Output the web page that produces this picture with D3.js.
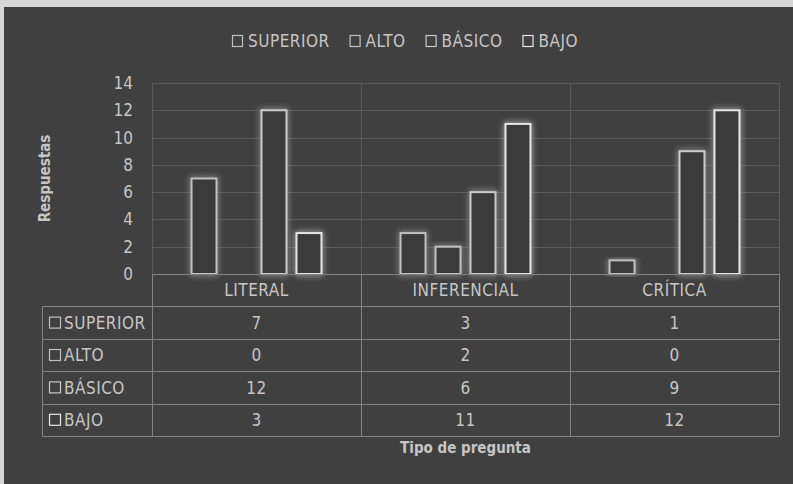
<!DOCTYPE html>
<html>
<head>
<meta charset="utf-8">
<script src="https://cdn.jsdelivr.net/npm/d3@7"></script>
<style>
  body { margin: 0; background: #d6d6d6; }
  svg { display: block; }
</style>
</head>
<body>
<div id="chart"></div>
<script>
// data
var categories = ["LITERAL", "INFERENCIAL", "CRÍTICA"];
var series = ["SUPERIOR", "ALTO", "BÁSICO", "BAJO"];
var superior = [7, 3, 1];
var alto = [0, 2, 0];
var basico = [12, 6, 9];
var bajo = [3, 11, 12];
var yTicks = [0, 2, 4, 6, 8, 10, 12, 14];

var values = [superior, alto, basico, bajo];
var strokeCol = {"SUPERIOR": "#c0c0c0", "ALTO": "#c0c0c0", "BÁSICO": "#cacaca", "BAJO": "#e6e6e6"};

var W = 793, H = 484;
var plot = {left: 152, right: 779, top: 83, bottom: 274};
var rowH = 32.4, labelLeft = 42;
var font = "'DejaVu Sans Condensed', 'DejaVu Sans', sans-serif";
var txt = "#c6c6c6";

var svg = d3.select("#chart").append("svg")
  .attr("width", W)
  .attr("height", H)
  .style("font-family", font);

// outer light strip + dark chart area
svg.append("rect").attr("width", W).attr("height", H).attr("fill", "#d6d6d6");
svg.append("rect").attr("x", 4).attr("y", 7).attr("width", W - 4).attr("height", H - 7).attr("fill", "#404040");

var defs = svg.append("defs");
var f = defs.append("filter").attr("id", "glow")
  .attr("x", "-50%").attr("y", "-20%").attr("width", "200%").attr("height", "140%");
f.append("feGaussianBlur").attr("in", "SourceGraphic").attr("stdDeviation", 3.2).attr("result", "b");
var m = f.append("feMerge");
m.append("feMergeNode").attr("in", "b");
m.append("feMergeNode").attr("in", "SourceGraphic");

// scales
var x0 = d3.scaleBand().domain(categories).range([plot.left, plot.right]).padding(0);
var x1 = d3.scaleBand().domain(series).range([0, x0.bandwidth()])
  .paddingInner(0.286).paddingOuter(1.13);
var y = d3.scaleLinear().domain([0, 14]).range([plot.bottom, plot.top]);

// horizontal gridlines
svg.append("g").selectAll("line")
  .data(yTicks.slice(1))
  .enter().append("line")
    .attr("x1", plot.left).attr("x2", plot.right)
    .attr("y1", function(d) { return Math.round(y(d)) + 0.5; })
    .attr("y2", function(d) { return Math.round(y(d)) + 0.5; })
    .attr("stroke", "#595959").attr("stroke-width", 1);

// vertical separators in the plot
var bounds = categories.map(function(c) { return x0(c); }).concat([plot.right]);
svg.append("g").selectAll("line")
  .data(bounds)
  .enter().append("line")
    .attr("x1", function(d) { return Math.round(d) + 0.5; })
    .attr("x2", function(d) { return Math.round(d) + 0.5; })
    .attr("y1", plot.top).attr("y2", plot.bottom)
    .attr("stroke", "#595959");

// y axis labels
svg.append("g")
  .attr("transform", "translate(" + (plot.left - 19) + ",0)")
  .call(d3.axisLeft(y).tickValues(yTicks).tickSize(0).tickPadding(0))
  .call(function(g) { g.select(".domain").remove(); })
  .selectAll("text")
    .style("font-family", font)
    .style("font-size", "17px")
    .attr("fill", txt);

// bars
var barData = [];
series.forEach(function(s, i) {
  categories.forEach(function(c, j) {
    if (values[i][j] > 0) barData.push({s: s, c: c, v: values[i][j]});
  });
});
svg.append("g").selectAll("rect")
  .data(barData)
  .enter().append("rect")
    .attr("x", function(d) { return x0(d.c) + x1(d.s); })
    .attr("y", function(d) { return y(d.v); })
    .attr("width", x1.bandwidth())
    .attr("height", function(d) { return y(0) - y(d.v); })
    .attr("fill", "#3a3a3a")
    .attr("stroke", function(d) { return strokeCol[d.s]; })
    .attr("stroke-width", 2)
    .attr("filter", "url(#glow)");

// data table
var tableTop = plot.bottom;
var tableLine = "#838383";
var tg = svg.append("g").style("letter-spacing", "0.5px");
var nRows = series.length;
var tBottom = tableTop + rowH * (nRows + 1);

tg.append("line").attr("x1", plot.left).attr("x2", plot.right)
  .attr("y1", tableTop + 0.5).attr("y2", tableTop + 0.5).attr("stroke", tableLine);
d3.range(1, nRows + 2).forEach(function(r) {
  var yy = Math.round(tableTop + rowH * r) + 0.5;
  tg.append("line").attr("x1", labelLeft).attr("x2", plot.right)
    .attr("y1", yy).attr("y2", yy).attr("stroke", tableLine);
});
bounds.forEach(function(b) {
  tg.append("line")
    .attr("x1", Math.round(b) + 0.5).attr("x2", Math.round(b) + 0.5)
    .attr("y1", tableTop).attr("y2", tBottom).attr("stroke", tableLine);
});
tg.append("line").attr("x1", labelLeft + 0.5).attr("x2", labelLeft + 0.5)
  .attr("y1", tableTop + rowH).attr("y2", tBottom).attr("stroke", tableLine);

// header
tg.selectAll("text.hdr")
  .data(categories)
  .enter().append("text")
    .attr("class", "hdr")
    .attr("x", function(c) { return x0(c) + x0.bandwidth() / 2; })
    .attr("y", tableTop + rowH / 2)
    .attr("dy", "0.36em")
    .attr("text-anchor", "middle")
    .attr("fill", txt)
    .style("font-size", "17px")
    .text(function(c) { return c; });

// rows
series.forEach(function(s, i) {
  var cy = tableTop + rowH * (i + 1) + rowH / 2;
  tg.append("rect")
    .attr("x", labelLeft + 7.5).attr("y", cy - 5.5)
    .attr("width", 11).attr("height", 11)
    .attr("fill", "none").attr("stroke", strokeCol[s]).attr("stroke-width", 1.2);
  tg.append("text")
    .attr("x", labelLeft + 22).attr("y", cy).attr("dy", "0.36em")
    .attr("fill", txt).style("font-size", "17px")
    .text(s);
  categories.forEach(function(c, j) {
    tg.append("text")
      .attr("x", x0(c) + x0.bandwidth() / 2).attr("y", cy).attr("dy", "0.36em")
      .attr("text-anchor", "middle")
      .attr("fill", txt).style("font-size", "17px")
      .text(values[i][j]);
  });
});

// axis titles
svg.append("text")
  .attr("x", (plot.left + plot.right) / 2).attr("y", 448).attr("dy", "0.36em")
  .attr("text-anchor", "middle")
  .attr("fill", txt).style("font-size", "15px").style("font-weight", "bold")
  .text("Tipo de pregunta");

svg.append("text")
  .attr("transform", "translate(45," + ((plot.top + plot.bottom) / 2) + ") rotate(-90)")
  .attr("dy", "0.36em")
  .attr("text-anchor", "middle")
  .attr("fill", txt).style("font-size", "15px").style("font-weight", "bold")
  .text("Respuestas");

// legend
var lg = svg.append("g").attr("transform", "translate(232,41)").style("letter-spacing", "0.5px");
var lx = 0;
series.forEach(function(s) {
  var it = lg.append("g").attr("transform", "translate(" + lx + ",0)");
  it.append("rect").attr("x", 0.5).attr("y", -5.5).attr("width", 10).attr("height", 11)
    .attr("fill", "none").attr("stroke", strokeCol[s]).attr("stroke-width", 1.2);
  var t = it.append("text").attr("x", 16).attr("dy", "0.36em")
    .attr("fill", txt).style("font-size", "17px").text(s);
  lx += 16 + t.node().getComputedTextLength() + 20;
});
</script>
</body>
</html>
